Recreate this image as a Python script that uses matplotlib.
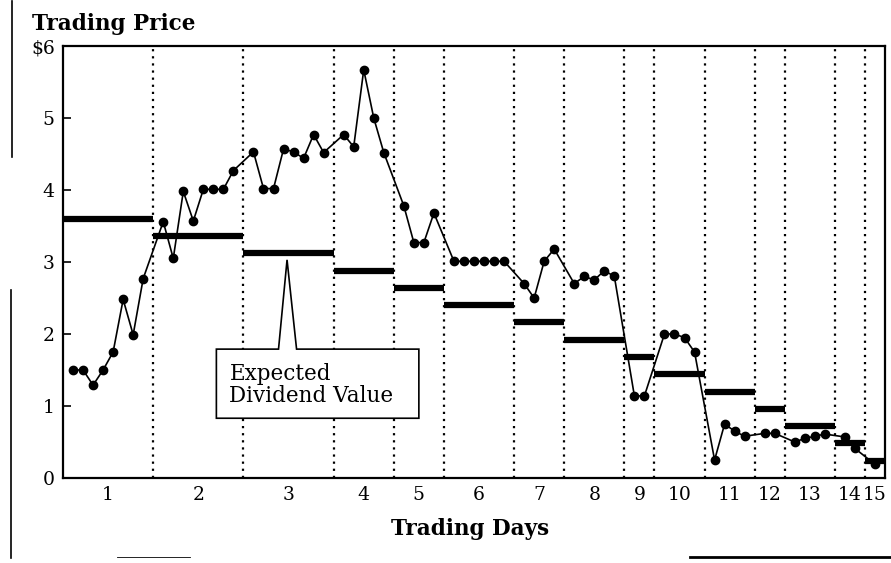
import numpy as np
import matplotlib
matplotlib.use("Agg")
import matplotlib.pyplot as plt
from matplotlib.patches import Polygon
from matplotlib.lines import Line2D

plt.rcParams['font.family'] = ['DejaVu Serif']

# trading periods: edges of each day in observation slots
day_edges = [0, 9, 18, 27, 33, 38, 45, 50, 56, 59, 64, 69, 72, 77, 80, 82]
day_labels = [str(d) for d in range(1, 16)]

# expected dividend value per day
dividend = [3.60, 3.36, 3.12, 2.88, 2.64, 2.40, 2.16, 1.92, 1.68, 1.44,
            1.20, 0.96, 0.72, 0.48, 0.24]

# traded prices, one list per day
prices = [
    [1.50, 1.50, 1.29, 1.50, 1.75, 2.48, 1.99, 2.77],
    [3.56, 3.05, 3.98, 3.57, 4.01, 4.01, 4.01, 4.27],
    [4.53, 4.02, 4.02, 4.57, 4.53, 4.44, 4.77, 4.52],
    [4.77, 4.60, 5.67, 5.00, 4.52],
    [3.78, 3.27, 3.27, 3.68],
    [3.01, 3.01, 3.01, 3.01, 3.01, 3.01],
    [2.70, 2.50, 3.01, 3.18],
    [2.70, 2.80, 2.75, 2.88, 2.80],
    [1.14, 1.14],
    [2.00, 2.00, 1.95, 1.75],
    [0.25, 0.75, 0.65, 0.58],
    [0.62, 0.62],
    [0.50, 0.55, 0.58, 0.61],
    [0.57, 0.41],
    [0.19],
]

# x position of each trade: consecutive slots after the day's left edge
xs, ys = [], []
for start, p in zip(day_edges[:-1], prices):
    xs += [start + 1 + i for i in range(len(p))]
    ys += p

fig = plt.figure(figsize=(8.91, 5.63), dpi=100)
ax = fig.add_axes([63/891, 85/563, 822/891, 432/563])

# dotted day separators
ax.vlines(day_edges[1:-1], 0, 6, colors='black', linestyles=(0, (1, 2.2)), lw=1.6, zorder=1)

# expected dividend bars
ax.hlines(dividend, day_edges[:-1], day_edges[1:], colors='black', lw=4.5, zorder=2)

# price path
ax.plot(xs, ys, color='black', lw=1.2, marker='o', ms=6, zorder=3)

ax.set_xlim(0, 82)
ax.set_ylim(0, 6)
ax.set_yticks([0, 1, 2, 3, 4, 5, 6])
ax.set_yticklabels(['0', '1', '2', '3', '4', '5', '$6'], fontsize=13.5)
centers = [(a + b) / 2 for a, b in zip(day_edges[:-1], day_edges[1:])]
ax.set_xticks(centers)
ax.set_xticklabels(day_labels, fontsize=13.5)
ax.tick_params(axis='y', direction='in', length=6, width=1.2, pad=6)
ax.tick_params(axis='x', length=0, pad=6)
for s in ax.spines.values():
    s.set_linewidth(1.6)

# callout box
box = Polygon([(15.3, 0.83), (35.5, 0.83), (35.5, 1.79), (23.3, 1.79),
               (22.35, 3.03), (21.5, 1.79), (15.3, 1.79)],
              closed=True, facecolor='white', edgecolor='black', lw=1.2, zorder=4)
ax.add_patch(box)
ax.text(16.6, 1.29, 'Expected\nDividend Value', fontsize=15.5, ha='left', va='center',
        linespacing=1.0, zorder=5)

fig.text(32/891, 1 - 30/563, 'Trading Price', fontsize=15.5, fontweight='bold',
         ha='left', va='baseline')
fig.text(470/891, 1 - 535/563, 'Trading Days', fontsize=15.5, fontweight='bold',
         ha='center', va='baseline')

# page edges visible in the scan
fig.add_artist(Line2D([12/891, 12/891], [1 - 1/563, 1 - 157/563], color='black', lw=1.2))
fig.add_artist(Line2D([11/891, 11/891], [1 - 290/563, 1 - 558/563], color='black', lw=1.2))
fig.add_artist(Line2D([117/891, 190/891], [1 - 557/563, 1 - 557/563], color='black', lw=0.6))
fig.add_artist(Line2D([690/891, 891/891], [1 - 557/563, 1 - 557/563], color='black', lw=2.0))

fig.savefig('out.png', dpi=100)
